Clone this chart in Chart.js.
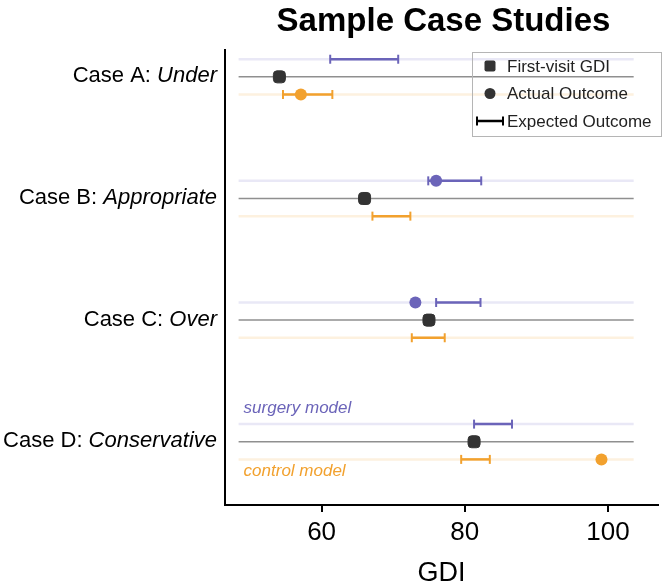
<!DOCTYPE html>
<html>
<head>
<meta charset="utf-8">
<script src="https://cdn.jsdelivr.net/npm/chart.js@4.4.1/dist/chart.umd.min.js"></script>
<style>
  html, body { margin: 0; padding: 0; background: #ffffff; }
  #wrap { width: 666px; height: 587px; }
</style>
</head>
<body>
<div id="wrap"><canvas id="c" width="666" height="587"></canvas></div>
<script>
// ---- data ----
const caseNames = ['Case A', 'Case B', 'Case C', 'Case D'];
const caseTypes = ['Under', 'Appropriate', 'Over', 'Conservative'];
const firstVisit = [54.1, 66.0, 75.0, 81.3];
const surgeryLow = [61.2, 74.9, 76.0, 81.3];
const surgeryHigh = [70.7, 82.3, 82.2, 86.6];
const controlLow = [54.6, 67.1, 72.6, 79.5];
const controlHigh = [61.5, 72.4, 77.2, 83.5];
const surgeryActual = [null, 76.0, 73.1, null];
const controlActual = [57.1, null, null, 99.1];
const xTicks = [60, 80, 100];
const rowRange = [48.4, 103.6];
const legendLabels = ['First-visit GDI', 'Actual Outcome', 'Expected Outcome'];
const modelLabels = ['surgery model', 'control model'];

// ---- style ----
const PURPLE = '#6b64b9';
const ORANGE = '#f2a12e';
const LIGHT_PURPLE = '#e9e8f6';
const LIGHT_ORANGE = '#fdf1df';
const GRAY = '#8f8f8f';
const DARK = '#333333';
const ROW_OFF = 0.145;
const FONT = '"Liberation Sans", Arial, Helvetica, sans-serif';

const datasets = [];
caseNames.forEach((name, i) => {
  const rows = [
    { y: i - ROW_OFF, color: LIGHT_PURPLE, w: 2.5 },
    { y: i, color: GRAY, w: 1.5 },
    { y: i + ROW_OFF, color: LIGHT_ORANGE, w: 2.5 }
  ];
  rows.forEach(r => {
    datasets.push({
      data: [{ x: rowRange[0], y: r.y }, { x: rowRange[1], y: r.y }],
      showLine: true, borderColor: r.color, borderWidth: r.w,
      pointRadius: 0, order: 3
    });
  });
  datasets.push({
    data: [{ x: surgeryLow[i], y: i - ROW_OFF }, { x: surgeryHigh[i], y: i - ROW_OFF }],
    showLine: true, borderColor: PURPLE, borderWidth: 2.5,
    pointStyle: 'line', rotation: 90, pointRadius: 4.5,
    pointBorderColor: PURPLE, pointBorderWidth: 2, order: 2
  });
  datasets.push({
    data: [{ x: controlLow[i], y: i + ROW_OFF }, { x: controlHigh[i], y: i + ROW_OFF }],
    showLine: true, borderColor: ORANGE, borderWidth: 2.5,
    pointStyle: 'line', rotation: 90, pointRadius: 4.5,
    pointBorderColor: ORANGE, pointBorderWidth: 2, order: 2
  });
});
datasets.push({
  data: firstVisit.map((v, i) => ({ x: v, y: i })),
  pointStyle: 'rectRounded', pointRadius: 7,
  backgroundColor: DARK, borderColor: DARK, pointBorderWidth: 1, order: 0
});
datasets.push({
  data: surgeryActual.map((v, i) => v === null ? null : ({ x: v, y: i - ROW_OFF })).filter(p => p),
  pointStyle: 'circle', pointRadius: 6,
  backgroundColor: PURPLE, borderColor: PURPLE, pointBorderWidth: 0, order: 0
});
datasets.push({
  data: controlActual.map((v, i) => v === null ? null : ({ x: v, y: i + ROW_OFF })).filter(p => p),
  pointStyle: 'circle', pointRadius: 6,
  backgroundColor: ORANGE, borderColor: ORANGE, pointBorderWidth: 0, order: 0
});

const decor = {
  id: 'decor',
  afterDraw(chart) {
    const ctx = chart.ctx;
    const ys = chart.scales.y;
    const xs = chart.scales.x;
    ctx.save();
    // y category labels
    caseNames.forEach((name, i) => {
      const y = ys.getPixelForValue(i) + 5.5;
      const a = name + ': ';
      const b = caseTypes[i];
      ctx.font = '22px ' + FONT;
      const wa = ctx.measureText(a).width;
      ctx.font = 'italic 22px ' + FONT;
      const wb = ctx.measureText(b).width;
      const right = chart.chartArea.left - 8;
      ctx.fillStyle = '#000';
      ctx.textBaseline = 'alphabetic';
      ctx.textAlign = 'left';
      ctx.font = '22px ' + FONT;
      ctx.fillText(a, right - wa - wb, y);
      ctx.font = 'italic 22px ' + FONT;
      ctx.fillText(b, right - wb, y);
    });
    // model annotations
    const last = caseNames.length - 1;
    ctx.font = 'italic 17px ' + FONT;
    ctx.textAlign = 'left';
    ctx.fillStyle = PURPLE;
    ctx.fillText(modelLabels[0], xs.getPixelForValue(rowRange[0]) + 5, ys.getPixelForValue(last - ROW_OFF) - 11);
    ctx.fillStyle = ORANGE;
    ctx.fillText(modelLabels[1], xs.getPixelForValue(rowRange[0]) + 5, ys.getPixelForValue(last + ROW_OFF) + 17);
    // legend
    const lx = 472, ly = 52, lw = 189, lh = 84;
    ctx.strokeStyle = '#b5b5b5';
    ctx.lineWidth = 1;
    ctx.strokeRect(lx + 0.5, ly + 0.5, lw, lh);
    const rowsY = [66, 93.5, 121];
    ctx.fillStyle = DARK;
    const s = 11;
    ctx.beginPath();
    if (ctx.roundRect) ctx.roundRect(490 - s / 2, rowsY[0] - s / 2, s, s, 2); else ctx.rect(490 - s / 2, rowsY[0] - s / 2, s, s);
    ctx.fill();
    ctx.beginPath();
    ctx.arc(490, rowsY[1], 5.5, 0, Math.PI * 2);
    ctx.fill();
    ctx.strokeStyle = '#000';
    ctx.lineWidth = 2.5;
    ctx.beginPath();
    ctx.moveTo(477, rowsY[2]); ctx.lineTo(503, rowsY[2]);
    ctx.stroke();
    ctx.lineWidth = 2;
    ctx.beginPath();
    ctx.moveTo(477, rowsY[2] - 4.5); ctx.lineTo(477, rowsY[2] + 4.5);
    ctx.moveTo(503, rowsY[2] - 4.5); ctx.lineTo(503, rowsY[2] + 4.5);
    ctx.stroke();
    ctx.fillStyle = '#222';
    ctx.font = '17px ' + FONT;
    ctx.textBaseline = 'middle';
    legendLabels.forEach((t, i) => ctx.fillText(t, 507, rowsY[i] + 1));
    ctx.restore();
  }
};

new Chart(document.getElementById('c'), {
  type: 'scatter',
  data: { datasets },
  plugins: [decor],
  options: {
    responsive: false,
    animation: false,
    events: [],
    layout: { padding: { left: 225, right: 4, top: 0, bottom: 0 } },
    plugins: {
      legend: { display: false },
      tooltip: { enabled: false },
      title: {
        display: true,
        text: 'Sample Case Studies',
        color: '#000',
        font: { family: FONT, size: 33, weight: 'bold', lineHeight: 1.2 },
        padding: { top: 2.5, bottom: 8 }
      }
    },
    scales: {
      x: {
        type: 'linear',
        min: 46.5, max: 107,
        afterBuildTicks: s => { s.ticks = xTicks.map(v => ({ value: v })); },
        afterFit: s => { s.height = 82; },
        grid: { drawOnChartArea: false, drawTicks: true, tickLength: 7, color: '#000', lineWidth: 2 },
        border: { display: true, color: '#000', width: 2 },
        ticks: { color: '#000', font: { family: FONT, size: 26 }, padding: 5 },
        title: { display: true, text: 'GDI', color: '#000', font: { family: FONT, size: 27 }, padding: { top: 0, bottom: -3 } }
      },
      y: {
        type: 'linear',
        reverse: true,
        min: -0.22, max: 3.52,
        afterFit: s => { s.width = 0; },
        grid: { display: false },
        border: { display: true, color: '#000', width: 2 },
        ticks: { display: false }
      }
    }
  }
});
</script>
</body>
</html>
